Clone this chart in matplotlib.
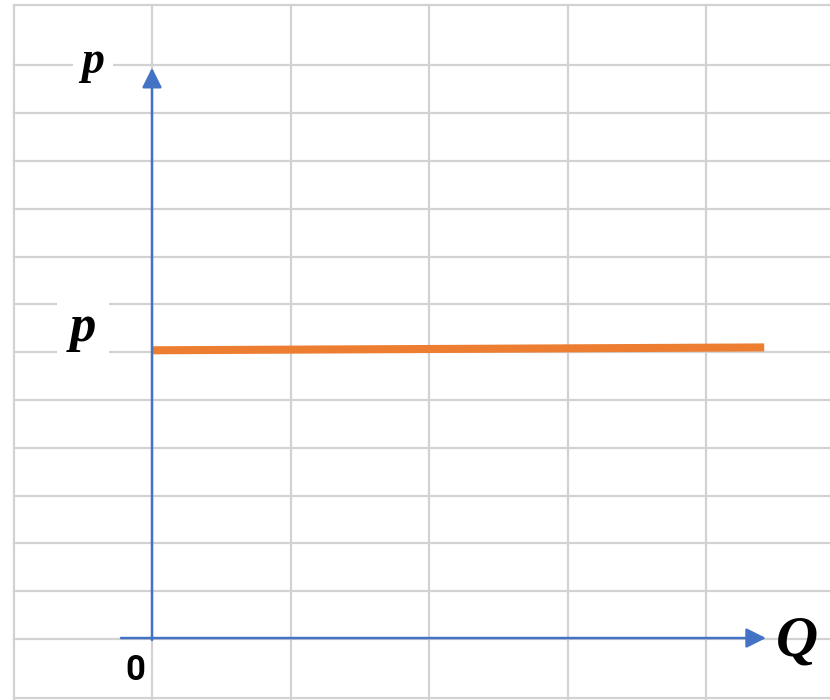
import numpy as np
import matplotlib
matplotlib.use("Agg")
import matplotlib.pyplot as plt

# grid (spreadsheet cells) in diagram units: 1 column = 1 unit of Q, 1 row = 1 unit of p
grid_q = [-1, 0, 1, 2, 3, 4]
grid_p = [-1.24, 0, 1, 2, 3, 4, 5, 6, 7, 8, 9, 10, 11, 12, 13.27]

# horizontal price line
price_q = [0, 4.42]
price_p = [6.04, 6.10]

# axis arrows
yaxis_start = (0, -0.02)
yaxis_end = (0, 11.95)
xaxis_start = (-0.224, 0.02)
xaxis_end = (4.433, 0.02)

fig = plt.figure(figsize=(8.3, 7), dpi=100)
ax = fig.add_axes([0, 0, 1, 1])
ax.set_xlim(-1.0975, 4.895)
ax.set_ylim(-1.276, 13.368)
ax.axis("off")

grid_col = "#d2d2d2"
for q in grid_q:
    ax.plot([q, q], [grid_p[0] - 1, grid_p[-1]], color=grid_col, lw=1.6, zorder=0)
for p in grid_p:
    ax.plot([grid_q[0], 6], [p, p], color=grid_col, lw=1.6, zorder=0)

ax.plot(price_q, price_p, color="#ed7d31", lw=5.8, solid_capstyle="butt", zorder=2)

blue = "#4472c4"
arrow = dict(arrowstyle="-|>,head_length=0.6,head_width=0.3", color=blue, lw=1.8,
             mutation_scale=20, shrinkA=0, shrinkB=0)
ax.annotate("", xy=yaxis_end, xytext=yaxis_start, arrowprops=arrow, zorder=3)
ax.annotate("", xy=xaxis_end, xytext=xaxis_start, arrowprops=arrow, zorder=3)

lab = dict(family="Liberation Serif", weight="bold", style="italic", ha="center", va="center")
ax.text(-0.426, 12.07, "p", fontsize=33, zorder=1,
        bbox=dict(fc="white", ec="none", pad=6), **lab)
ax.text(-0.498, 6.5, "p", fontsize=38, zorder=1,
        bbox=dict(fc="white", ec="none", pad=9), **lab)
ax.text(4.657, -0.05, "Q", fontsize=42, **lab)
ax.text(-0.123, -0.66, "0", fontsize=25, family="Roboto", weight="bold",
        ha="center", va="center")

fig.savefig("out.png", dpi=100, facecolor="white")
